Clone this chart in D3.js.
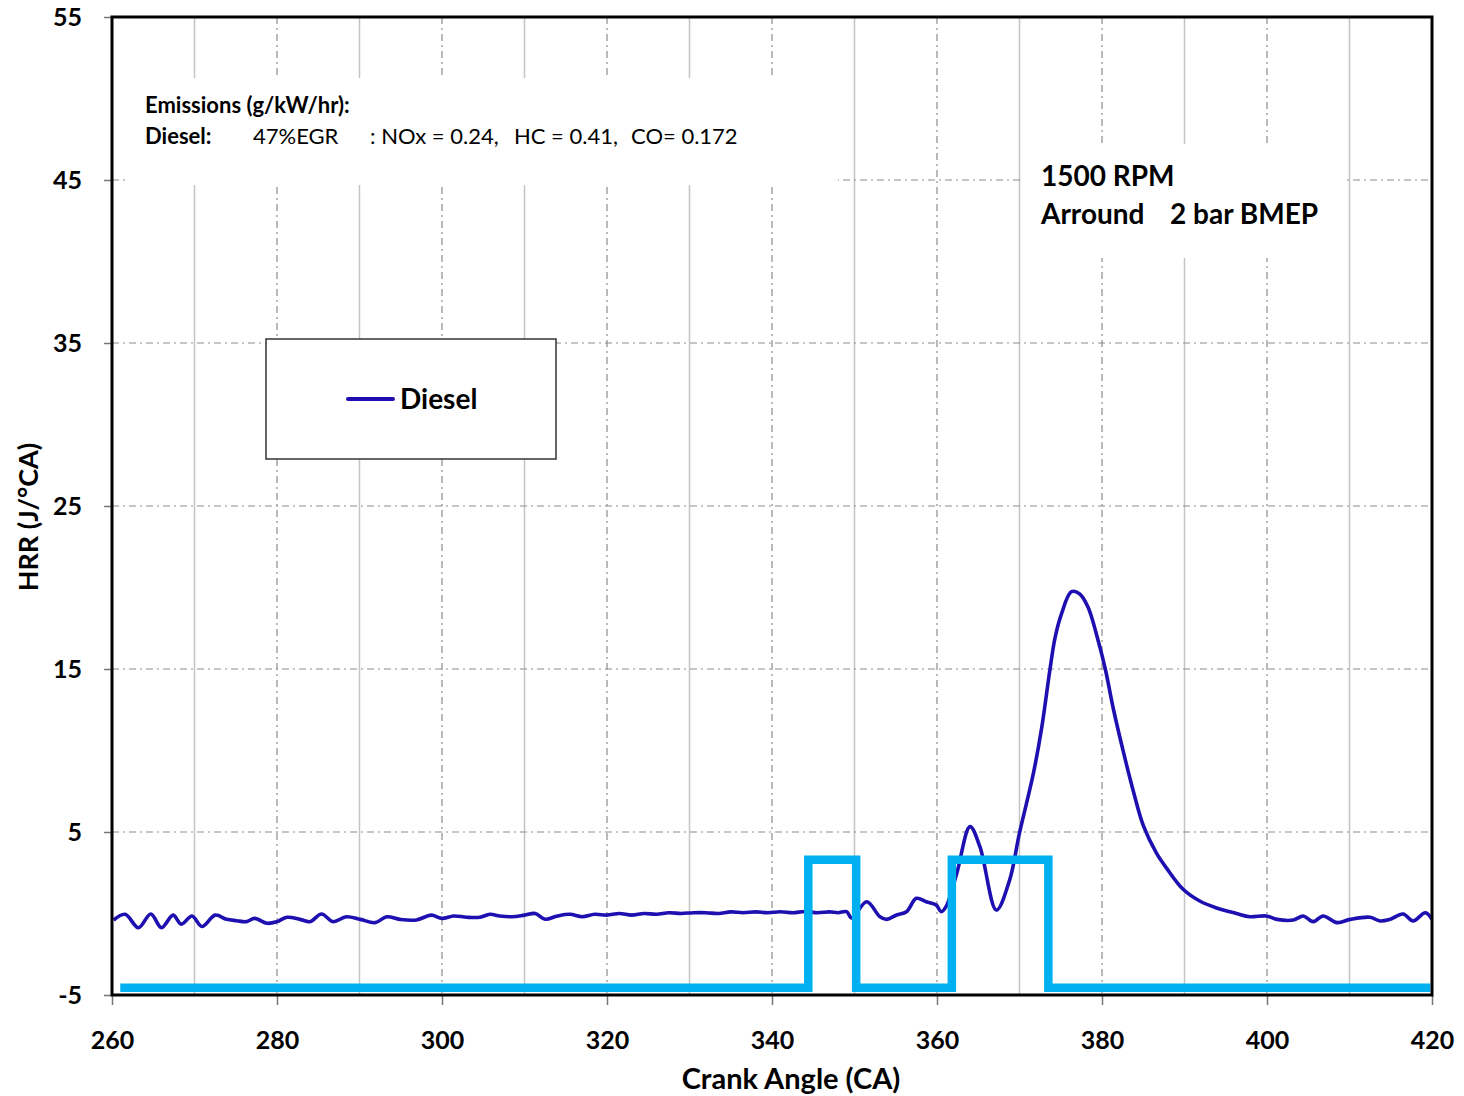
<!DOCTYPE html>
<html>
<head>
<meta charset="utf-8">
<script src="https://cdn.jsdelivr.net/npm/d3@7"></script>
<style>
  body { margin: 0; background: #fff; }
  svg { font-family: Lato, "Open Sans", sans-serif; }
  .tick-label { font-weight: bold; font-size: 25px; }
</style>
</head>
<body>
<svg id="chart" width="1464" height="1096"></svg>
<script>
  // crank angle (deg) and heat release rate (J/deg CA)
  var crankAngle = [
    260.2, 261.6, 263.2, 264.7, 266.0, 267.4, 268.4, 269.7, 270.9, 272.5,
    273.9, 275.1, 276.3, 277.3, 278.8, 280.0, 281.2, 282.8, 284.0, 285.4,
    286.8, 288.4, 290.1, 291.9, 293.3, 294.9, 296.9, 298.7, 300.0, 301.4,
    303.0, 304.6, 305.8, 307.0, 308.5, 310.0, 311.3, 312.5, 314.0, 315.5,
    317.0, 318.5, 320.0, 321.5, 323.0, 324.5, 326.0, 327.5, 329.0, 330.5,
    332.0, 333.5, 335.0, 336.5, 338.0, 339.5, 341.0, 342.5, 344.0, 345.5,
    347.0, 348.0, 349.05, 349.66, 351.48, 353.09, 353.9, 355.1, 356.3, 357.5,
    358.7, 359.9, 360.5, 361.1, 362.4, 364.0, 365.2, 367.2, 368.8, 370.0,
    371.67, 372.69, 373.7, 374.3, 375.1, 376.3, 377.3, 378.3, 379.4, 380.4,
    381.4, 382.6, 383.8, 385.0, 386.6, 387.8, 389.8, 391.9, 393.9, 396.3,
    397.9, 399.9, 401.2, 403.2, 404.4, 405.6, 406.8, 408.5, 410.1, 412.5,
    413.7, 414.9, 416.5, 417.7, 419.2, 420.0
  ]
  var hrrDiesel = [
    -0.4, -0.05, -0.87, -0.03, -0.87, -0.1, -0.65, -0.15, -0.8, -0.1,
    -0.36, -0.44, -0.5, -0.3, -0.6, -0.5, -0.23, -0.36, -0.5, -0.03,
    -0.5, -0.2, -0.36, -0.56, -0.2, -0.36, -0.4, -0.1, -0.3, -0.15,
    -0.23, -0.23, -0.05, -0.15, -0.2, -0.1, 0.0, -0.35, -0.15, -0.05,
    -0.2, -0.05, -0.1, 0.0, -0.1, 0.0, -0.05, 0.05, 0.0, 0.05,
    0.05, 0.0, 0.1, 0.05, 0.1, 0.05, 0.11, 0.05, 0.12, 0.05,
    0.1, 0.05, 0.11, -0.28, 0.72, -0.2, -0.36, -0.09, 0.11, 0.93,
    0.72, 0.52, 0.11, 0.42, 2.47, 5.33, 4.1, 0.21, 2.05, 4.94,
    8.56, 11.4, 15.0, 16.9, 18.4, 19.74, 19.6, 18.8, 17.0, 15.0,
    12.5, 9.9, 7.5, 5.4, 3.7, 2.8, 1.5, 0.75, 0.34, 0.0,
    -0.2, -0.15, -0.36, -0.4, -0.15, -0.5, -0.15, -0.56, -0.36, -0.23,
    -0.46, -0.36, -0.03, -0.46, 0.05, -0.36
  ]

  // injection signal (step trace)
  var injAngle = [261, 344.4, 344.4, 350.2, 350.2, 361.8, 361.8, 373.5, 373.5, 419.8]
  var injLevel = [-4.55, -4.55, 3.3, 3.3, -4.55, -4.55, 3.3, 3.3, -4.55, -4.55]

  var xTicks = [260, 280, 300, 320, 340, 360, 380, 400, 420]
  var xMinor = [270, 290, 310, 330, 350, 370, 390, 410]
  var yTicks = [-5, 5, 15, 25, 35, 45, 55]

  var svg = d3.select('#chart')
  // note: "top" is a reserved window property, so use plot* names
  var plotL = 112, plotR = 1432, plotT = 17, plotB = 995

  var x = d3.scaleLinear().domain([260, 420]).range([plotL, plotR])
  var y = d3.scaleLinear().domain([-5, 55]).range([plotB, plotT])

  var grid = svg.append('g')

  // minor vertical grid: solid light grey
  grid.selectAll('line.minor')
    .data(xMinor)
    .enter().append('line')
    .attr('x1', d => x(d)).attr('x2', d => x(d))
    .attr('y1', plotT).attr('y2', plotB)
    .attr('stroke', '#c4c4c4').attr('stroke-width', 1.5)

  // major vertical grid: dash-dot
  grid.selectAll('line.major')
    .data(xTicks.slice(1, -1))
    .enter().append('line')
    .attr('x1', d => x(d)).attr('x2', d => x(d))
    .attr('y1', plotT).attr('y2', plotB)
    .attr('stroke', '#8c8c8c').attr('stroke-width', 1.2)
    .attr('stroke-dasharray', '7,4,2,4')

  // horizontal grid: dash-dot
  grid.selectAll('line.h')
    .data(yTicks.slice(1, -1))
    .enter().append('line')
    .attr('x1', plotL).attr('x2', plotR)
    .attr('y1', d => y(d)).attr('y2', d => y(d))
    .attr('stroke', '#8c8c8c').attr('stroke-width', 1.2)
    .attr('stroke-dasharray', '7,4,2,4')

  // white boxes behind the annotations
  svg.append('rect').attr('x', 125).attr('y', 78).attr('width', 713).attr('height', 107).attr('fill', '#fff')
  svg.append('rect').attr('x', 1022).attr('y', 144).attr('width', 324).attr('height', 114).attr('fill', '#fff')

  // axes (plain hyphen for negatives, like the original)
  var xAxis = d3.axisBottom(x).tickValues(xTicks).tickSize(10).tickPadding(26).tickFormat(d => String(d))
  var gx = svg.append('g').attr('transform', 'translate(0,' + plotB + ')').call(xAxis)
  gx.attr('font-family', null).attr('font-size', null)
  gx.select('.domain').remove()
  gx.selectAll('line').attr('stroke', '#777').attr('stroke-width', 1.5)
  gx.selectAll('text').attr('class', 'tick-label').attr('fill', '#000')

  var yAxis = d3.axisLeft(y).tickValues(yTicks).tickSize(8).tickPadding(22).tickFormat(d => String(d))
  var gy = svg.append('g').attr('transform', 'translate(' + plotL + ',0)').call(yAxis)
  gy.attr('font-family', null).attr('font-size', null)
  gy.select('.domain').remove()
  gy.selectAll('line').attr('stroke', '#777').attr('stroke-width', 1.5)
  gy.selectAll('text').attr('class', 'tick-label').attr('fill', '#000')

  // HRR curve
  var pts = crankAngle.map((a, i) => [a, hrrDiesel[i]])
  var line = d3.line().x(d => x(d[0])).y(d => y(d[1])).curve(d3.curveCatmullRom.alpha(0.5))
  svg.append('path')
    .attr('d', line(pts))
    .attr('fill', 'none')
    .attr('stroke', '#1e0fb0')
    .attr('stroke-width', 3.6)
    .attr('stroke-linejoin', 'round')

  // injection trace
  var inj = injAngle.map((a, i) => [a, injLevel[i]])
  var stepLine = d3.line().x(d => x(d[0])).y(d => y(d[1]))
  svg.append('path')
    .attr('d', stepLine(inj))
    .attr('fill', 'none')
    .attr('stroke', '#00b0f0')
    .attr('stroke-width', 8.5)
    .attr('stroke-linejoin', 'miter')

  // plot frame
  svg.append('rect')
    .attr('x', plotL).attr('y', plotT)
    .attr('width', plotR - plotL).attr('height', plotB - plotT)
    .attr('fill', 'none').attr('stroke', '#000').attr('stroke-width', 3)

  // axis titles
  svg.append('text')
    .attr('x', 791).attr('y', 1089)
    .attr('text-anchor', 'middle')
    .attr('font-weight', 'bold').attr('font-size', 29)
    .text('Crank Angle (CA)')

  svg.append('text')
    .attr('transform', 'translate(38,517) rotate(-90)')
    .attr('text-anchor', 'middle')
    .attr('font-weight', 'bold').attr('font-size', 27)
    .text('HRR (J/°CA)')

  // emissions note
  svg.append('text').attr('x', 145).attr('y', 113)
    .attr('font-weight', 'bold').attr('font-size', 22)
    .text('Emissions (g/kW/hr):')
  var note = svg.append('text').attr('y', 144).attr('font-size', 22)
  note.append('tspan').attr('x', 145).attr('font-weight', 'bold').text('Diesel:')
  note.append('tspan').attr('x', 253).text('47%EGR')
  note.append('tspan').attr('x', 370).text(': NOx = 0.24,')
  note.append('tspan').attr('x', 514).text('HC = 0.41,')
  note.append('tspan').attr('x', 631).text('CO= 0.172')

  // operating point
  svg.append('text').attr('x', 1041).attr('y', 186)
    .attr('font-weight', 'bold').attr('font-size', 28)
    .text('1500 RPM')
  var op = svg.append('text').attr('y', 224).attr('font-weight', 'bold').attr('font-size', 28)
  op.append('tspan').attr('x', 1041).text('Arround')
  op.append('tspan').attr('x', 1170).text('2 bar BMEP')

  // legend
  var lg = svg.append('g')
  lg.append('rect').attr('x', 266).attr('y', 339).attr('width', 290).attr('height', 120)
    .attr('fill', '#fff').attr('stroke', '#333').attr('stroke-width', 1.5)
  lg.append('line').attr('x1', 348).attr('x2', 393).attr('y1', 399).attr('y2', 399)
    .attr('stroke', '#1e0fb0').attr('stroke-width', 4).attr('stroke-linecap', 'round')
  lg.append('text').attr('x', 400).attr('y', 409)
    .attr('font-weight', 'bold').attr('font-size', 28)
    .text('Diesel')
</script>
</body>
</html>
